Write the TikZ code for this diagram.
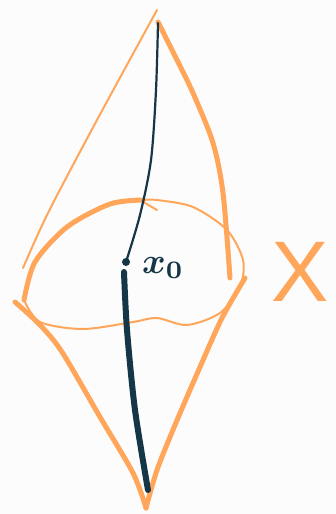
\documentclass[tikz,border=0pt]{standalone}
\usepackage{fontspec}
\setsansfont{Liberation Sans}
\usetikzlibrary{positioning}
\definecolor{sketchorange}{HTML}{FFA65A}
\definecolor{sketchink}{HTML}{143646}
\definecolor{paper}{HTML}{FCFCFC}

\begin{document}
\begin{tikzpicture}[
  x=1pt,y=-1pt,
  thinpen/.style={draw=sketchorange,line width=2pt,line cap=round,line join=round},
  thickpen/.style={draw=sketchorange,line width=5pt,line cap=round,line join=round},
  inkpen/.style={draw=sketchink,line cap=round,line join=round}
]
\fill[paper] (0,0) rectangle (336,514);
\useasboundingbox (0,0) rectangle (336,514);

\coordinate (top) at (157,10);
\coordinate (bot) at (146,508);
\coordinate (xzero) at (126,262);

% upper cone
\draw[thinpen] plot[smooth] coordinates {(top) (97,120) (48,213) (23,268)};
\draw[thickpen] plot[smooth] coordinates {(158,22) (176,58) (193,93) (213,143) (223,193) (230,278)};

% lower cone
\draw[thickpen] plot[smooth] coordinates {(15,302) (40,325) (62,352) (100,417) (133,473) (bot)};
\draw[thickpen] plot[smooth] coordinates {(245,278) (222,318) (200,367) (175,425) (157,470) (bot)};

% the set
\draw[thickpen] plot[smooth] coordinates {(143,200) (110,204) (67,227) (35,262) (24,300)};
\draw[thinpen] plot[smooth] coordinates {(24,300) (40,322) (83,329) (133,322) (157,318) (187,325) (220,313) (240,287) (243,260) (227,230) (193,207) (157,200) (143,200)};
\draw[thinpen] (140,200) -- (157,210);

% geodesic through x_0
\draw[inkpen,line width=2.2pt] plot[smooth] coordinates {(158,23) (156,90) (151,160) (140,215) (xzero)};
\draw[inkpen,line width=6pt] plot[smooth] coordinates {(124,272) (127,330) (135,410) (148,490)};
\fill[sketchink] (xzero) circle (4pt);
\node[text=sketchink,anchor=west,inner sep=0pt] (label) at (142,268) {\scalebox{3.6}{\boldmath$x_0$}};

\node[text=sketchorange,font=\sffamily\fontsize{86}{86}\selectfont] (set) at (300,272) {X};
\end{tikzpicture}
\end{document}
